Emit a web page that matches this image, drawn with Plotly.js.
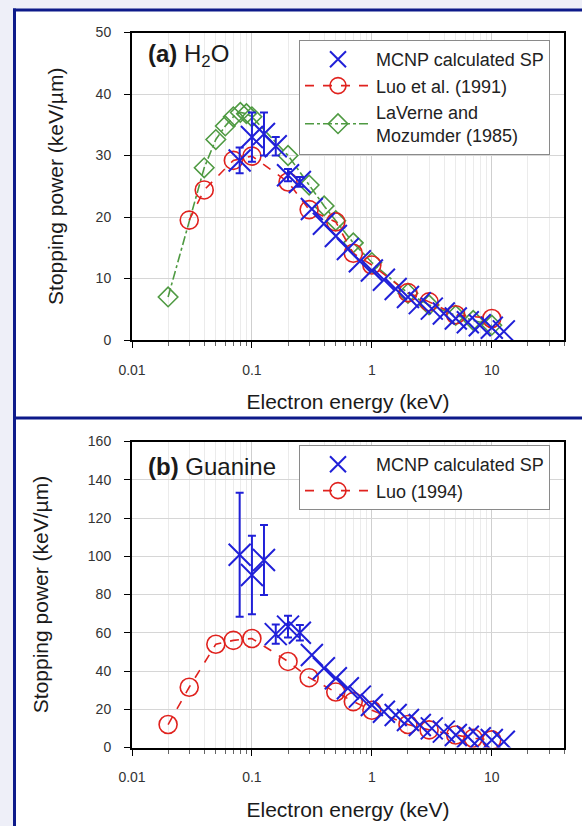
<!DOCTYPE html>
<html>
<head>
<meta charset="utf-8">
<script src="https://cdn.plot.ly/plotly-3.0.1.min.js"></script>
<style>
html,body{margin:0;padding:0;background:#eeeff8;}
#chart{width:582px;height:826px;}
</style>
</head>
<body>
<div id="chart"></div>
<script>
// ---------- Panel (a) H2O ----------
const h2oMcnpEnergy = [0.079,0.1,0.126,0.158,0.2,0.251,0.316,0.398,0.501,0.631,0.794,1,1.26,1.58,2,2.51,3.16,3.98,5.01,6.31,7.94,10,12.6];
const h2oMcnpSP     = [29.2,33.0,33.5,31.5,26.8,25.7,21.3,18.9,16.9,14.8,12.8,11.3,9.8,8.3,7.0,6.0,5.1,4.3,3.5,2.9,2.4,2.0,1.4];
const h2oMcnpErr    = [2.1,4.0,3.5,1.5,1.0,0.8,NaN,NaN,NaN,NaN,NaN,NaN,NaN,NaN,NaN,NaN,NaN,NaN,NaN,NaN,NaN,NaN,NaN];

const h2oLuoEnergy = [0.03,0.04,0.07,0.1,0.2,0.3,0.5,0.7,1,2,3,5,10];
const h2oLuoSP     = [19.5,24.4,29.2,29.9,25.7,21.2,19.2,14.1,12.2,7.7,6.2,4.1,3.5];

const h2oLaVerneEnergy = [0.02,0.04,0.05,0.06,0.07,0.08,0.09,0.1,0.2,0.3,0.4,0.5,0.7,1,2,3,5,7,10];
const h2oLaVerneSP     = [7.0,28.0,32.6,34.8,36.3,37.0,36.8,36.3,30.0,25.2,21.8,19.4,15.8,12.6,7.6,5.7,4.0,3.2,2.4];

// ---------- Panel (b) Guanine ----------
const guaMcnpEnergy = [0.079,0.1,0.126,0.158,0.2,0.251,0.316,0.398,0.501,0.631,0.794,1,1.26,1.58,2,2.51,3.16,3.98,5.01,6.31,7.94,10,12.6];
const guaMcnpSP     = [100.8,90.2,98.0,59.3,63.2,60.0,48.4,41.4,36.2,31.0,26.6,22.2,18.7,17.0,14.4,11.8,10.0,8.3,6.5,5.6,4.8,3.9,3.0];
const guaMcnpErr    = [32.4,20.5,18.3,5.0,5.7,4.0,NaN,NaN,NaN,NaN,NaN,NaN,NaN,NaN,NaN,NaN,NaN,NaN,NaN,NaN,NaN,NaN,NaN];

const guaLuoEnergy = [0.02,0.03,0.05,0.07,0.1,0.2,0.3,0.5,0.7,1,2,3,5,7,10];
const guaLuoSP     = [12.0,31.5,54.0,56.0,57.0,45.0,36.5,29.0,24.0,19.5,12.0,9.2,6.5,4.8,4.0];

// ---------- Labels ----------
const xTitle = 'Electron energy (keV)';
const yTitle = 'Stopping power (keV/µm)';
const nameMcnp = 'MCNP calculated SP';
const nameLuo1991 = 'Luo et al. (1991)';
const nameLaVerne = 'LaVerne and<br>Mozumder (1985)';
const nameLuo1994 = 'Luo (1994)';
const panelA = '<b>(a)</b> H<sub>2</sub>O';
const panelB = '<b>(b)</b> Guanine';

// ---------- Styles ----------
const BLUE = '#2020d8', RED = '#e0221e', GREEN = '#4f9a42', NAVY = '#0d1a8a';
const W = 582, H = 826;
const px = v => v / W, py = v => 1 - v / H;

function mcnpTrace(x, y, err, xa, ya, leg) {
  return {
    type:'scatter', mode:'markers', name:nameMcnp, x:x, y:y,
    xaxis:xa, yaxis:ya, legend:leg,
    marker:{symbol:'x-thin-open', size:22, color:BLUE, line:{color:BLUE, width:2}},
    error_y:{type:'data', array:err, visible:true, color:BLUE, thickness:2, width:4}
  };
}
function luoTrace(x, y, name, xa, ya, leg) {
  return {
    type:'scatter', mode:'lines+markers', name:name, x:x, y:y,
    xaxis:xa, yaxis:ya, legend:leg,
    line:{color:RED, width:1.6, dash:'dash'},
    marker:{symbol:'circle-open', size:18, color:RED, line:{color:RED, width:1.6}}
  };
}

const traces = [
  {
    type:'scatter', mode:'lines+markers', name:nameLaVerne,
    x:h2oLaVerneEnergy, y:h2oLaVerneSP, xaxis:'x', yaxis:'y', legend:'legend',
    line:{color:GREEN, width:1.6, dash:'dashdot'},
    marker:{symbol:'diamond-open', size:15, color:GREEN, line:{color:GREEN, width:1.6}}
  },
  luoTrace(h2oLuoEnergy, h2oLuoSP, nameLuo1991, 'x', 'y', 'legend'),
  mcnpTrace(h2oMcnpEnergy, h2oMcnpSP, h2oMcnpErr, 'x', 'y', 'legend'),
  luoTrace(guaLuoEnergy, guaLuoSP, nameLuo1994, 'x2', 'y2', 'legend2'),
  mcnpTrace(guaMcnpEnergy, guaMcnpSP, guaMcnpErr, 'x2', 'y2', 'legend2')
];

const fontFam = '"Liberation Sans", Arial, sans-serif';
function xAxis(anchor) {
  return {
    type:'log', range:[-2, Math.log10(40)], dtick:1, exponentformat:'none',
    domain:[px(132), px(564)], anchor:anchor,
    ticks:'outside', ticklen:6, tickwidth:1, tickcolor:'#000',
    ticklabelstandoff:10,
    tickfont:{size:14, color:'#333'},
    showline:true, linecolor:'#000', linewidth:2, mirror:true,
    showgrid:true, gridcolor:'#cfcfcf', gridwidth:1, zeroline:false,
    minor:{dtick:'D1', ticks:'outside', ticklen:4, tickcolor:'#666', showgrid:true, gridcolor:'#ebebeb', gridwidth:1},
    title:{text:xTitle, font:{size:21, color:'#1a1a1a'}, standoff:18}
  };
}
function yAxis(anchor, dom, range, dtick, standoff) {
  return {
    domain:dom, anchor:anchor, range:range, dtick:dtick,
    ticks:'outside', ticklen:6, tickwidth:1, tickcolor:'#000',
    ticklabelstandoff:10,
    tickfont:{size:14, color:'#333'},
    showline:true, linecolor:'#000', linewidth:2, mirror:true,
    showgrid:true, gridcolor:'#d6d6d6', gridwidth:1, zeroline:false,
    title:{text:yTitle, font:{size:21, color:'#1a1a1a'}, standoff:standoff}
  };
}

const legendBase = {
  bgcolor:'#ffffff', bordercolor:'#8a8a8a', borderwidth:1,
  font:{size:18, color:'#222', family:fontFam},
  xanchor:'right', yanchor:'top', traceorder:'reversed', itemwidth:66
};

const layout = {
  width:W, height:H, margin:{l:0, r:0, t:0, b:0},
  paper_bgcolor:'#eeeff8', plot_bgcolor:'#ffffff',
  font:{family:fontFam, color:'#222'},
  showlegend:true,
  xaxis: xAxis('y'),
  yaxis: yAxis('x', [py(340), py(32.5)], [0,50], 10, 26),
  xaxis2: xAxis('y2'),
  yaxis2: yAxis('x2', [py(747.5), py(441.5)], [0,160], 20, 33),
  legend: Object.assign({}, legendBase, {x:px(550), y:py(40)}),
  legend2: Object.assign({}, legendBase, {x:px(550), y:py(445)}),
  shapes:[
    {type:'rect', xref:'paper', yref:'paper', x0:px(15), x1:1, y0:0, y1:py(10), fillcolor:'#ffffff', line:{width:0}, layer:'below'},
    {type:'line', xref:'paper', yref:'paper', x0:px(14.5), x1:px(14.5), y0:0, y1:py(8.5), line:{color:NAVY, width:3}},
    {type:'line', xref:'paper', yref:'paper', x0:px(13), x1:1, y0:py(10), y1:py(10), line:{color:NAVY, width:3}},
    {type:'line', xref:'paper', yref:'paper', x0:px(13), x1:1, y0:py(418), y1:py(418), line:{color:NAVY, width:3}}
  ],
  annotations:[
    {xref:'paper', yref:'paper', x:px(146), y:py(55), xanchor:'left', yanchor:'middle', showarrow:false,
     text:panelA, font:{size:24, color:'#1a1a1a'}},
    {xref:'paper', yref:'paper', x:px(146), y:py(466), xanchor:'left', yanchor:'middle', showarrow:false,
     text:panelB, font:{size:24, color:'#1a1a1a'}}
  ]
};

Plotly.newPlot('chart', traces, layout, {displayModeBar:false, staticPlot:true});
</script>
</body>
</html>
